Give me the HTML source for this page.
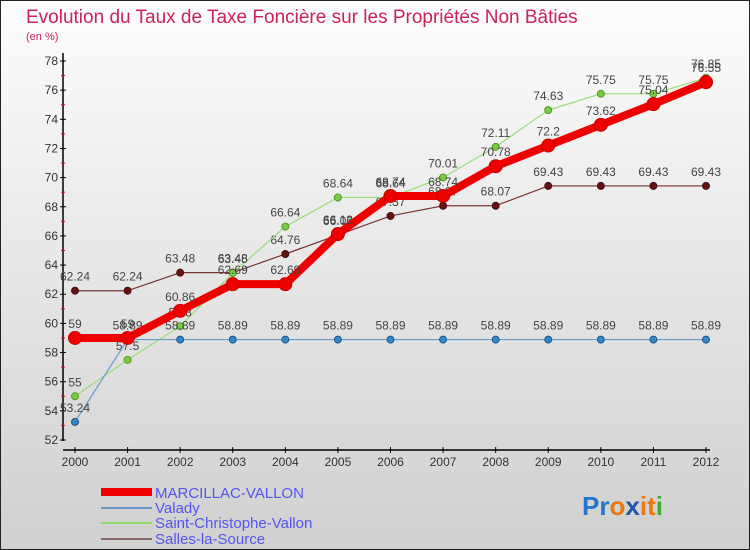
<!DOCTYPE html>
<html><head><meta charset="utf-8"><style>
body{margin:0;width:750px;height:550px;overflow:hidden;font-family:"Liberation Sans",sans-serif}
svg{display:block}
</style></head><body>
<svg id="c" width="750" height="550" xmlns="http://www.w3.org/2000/svg">
<defs><linearGradient id="bg" x1="0" y1="0" x2="0" y2="1"><stop offset="0" stop-color="#fdfdfd"/><stop offset="1" stop-color="#d0d0d0"/></linearGradient></defs>
<rect x="0.5" y="0.5" width="749" height="549" fill="url(#bg)" stroke="#222"/>
<text x="26" y="23" font-size="19" fill="#cc2255">Evolution du Taux de Taxe Foncière sur les Propriétés Non Bâties</text>
<text x="26" y="40" font-size="11" fill="#cc2255">(en %)</text>
<g id="axes"></g><g id="series"></g>
<g>
<line x1="101" y1="492" x2="152" y2="492" stroke="#ee0000" stroke-width="8"/>
<text x="155" y="498" font-size="15" fill="#5555ee">MARCILLAC-VALLON</text>
<line x1="101" y1="508" x2="152" y2="508" stroke="#6699cc" stroke-width="2"/>
<text x="155" y="513" font-size="15" fill="#5555ee">Valady</text>
<line x1="101" y1="523" x2="152" y2="523" stroke="#88dd66" stroke-width="2"/>
<text x="155" y="528" font-size="15" fill="#5555ee">Saint-Christophe-Vallon</text>
<line x1="101" y1="539" x2="152" y2="539" stroke="#886666" stroke-width="2"/>
<text x="155" y="544" font-size="15" fill="#5555ee">Salles-la-Source</text>
</g>
<text x="582" y="515" font-size="26" font-weight="bold"><tspan fill="#2277cc">Pr</tspan><tspan fill="#ee7711">o</tspan><tspan fill="#2255aa">x</tspan><tspan fill="#ee7711">i</tspan><tspan fill="#ee7711">t</tspan><tspan fill="#44aa33">i</tspan></text>
</svg>
<script>
const years=[2000,2001,2002,2003,2004,2005,2006,2007,2008,2009,2010,2011,2012];
const yTicks=[52,54,56,58,60,62,64,66,68,70,72,74,76,78];
const marcillac=[59,59,60.86,62.69,62.69,66.13,68.74,68.74,70.78,72.2,73.62,75.04,76.55];
const valady=[53.24,58.89,58.89,58.89,58.89,58.89,58.89,58.89,58.89,58.89,58.89,58.89,58.89];
const saintChristophe=[55,57.5,59.8,63.45,66.64,68.64,68.64,70.01,72.11,74.63,75.75,75.75,76.85];
const salles=[62.24,62.24,63.48,63.48,64.76,66.06,67.37,68.07,68.07,69.43,69.43,69.43,69.43];
const NS="http://www.w3.org/2000/svg";
const X0=75,X1=706,Y0=440,Y1=61,YMIN=52,YMAX=78;
const xs=i=>X0+(X1-X0)*i/(years.length-1);
const ys=v=>Y0-(v-YMIN)*(Y0-Y1)/(YMAX-YMIN);
function mk(t,a,p){const e=document.createElementNS(NS,t);for(const k in a)e.setAttribute(k,a[k]);p.appendChild(e);return e;}
const ax=document.getElementById('axes');
let e=mk('line',{x1:X0-12,y1:Y1-8,x2:X0-12,y2:Y0+1,stroke:'#000','stroke-width':1.5},ax);


e=mk('line',{x1:X0-12,y1:Y0+10,x2:X1+4,y2:Y0+10,stroke:'#000','stroke-width':1.5},ax);


yTicks.forEach((v,i)=>{
  const y=ys(v);
  mk('line',{x1:X0-15,y1:y,x2:X0-9,y2:y,stroke:'#000'},ax);
  if(i<yTicks.length-1) mk('line',{x1:X0-14,y1:ys(v+1),x2:X0-10,y2:ys(v+1),stroke:'#e00'},ax);
  const t=mk('text',{x:X0-17,y:y+4,'font-size':12,fill:'#333','text-anchor':'end'},ax);t.textContent=v;
  
  
});
years.forEach((yr,i)=>{
  const x=xs(i);
  mk('line',{x1:x,y1:Y0+7,x2:x,y2:Y0+13,stroke:'#000'},ax);
  const t=mk('text',{x:x,y:Y0+26,'font-size':12,fill:'#333','text-anchor':'middle'},ax);t.textContent=yr;
  
  
});
const sg=document.getElementById('series');
function series(vals,name,color,w,r,dot,dotStroke){
  const g=mk('g',{},sg);
  
  
  const l=mk('polyline',{points:vals.map((v,i)=>xs(i)+','+ys(v)).join(' '),fill:'none',stroke:color,'stroke-width':w,'stroke-linejoin':'round'},g);
  
  
  vals.forEach((v,i)=>{
    const c=mk('circle',{cx:xs(i),cy:ys(v),r:r,fill:dot,stroke:dotStroke,'stroke-width':1},g);
    
    
    const t=mk('text',{x:xs(i),y:ys(v)-10,'font-size':12,fill:'#444','text-anchor':'middle'},g);t.textContent=v;
    
    
  });
}
series(salles,'salles','#7a3333',1.2,3.5,'#661111','#441111');
series(saintChristophe,'saint-christophe','#99dd77',1.2,3.5,'#77cc44','#559922');
series(valady,'valady','#6699cc',1.2,3.5,'#3388cc','#225588');
series(marcillac,'marcillac','#ee0000',8,6.5,'#ee0000','#cc0000');
</script>
</body></html>
